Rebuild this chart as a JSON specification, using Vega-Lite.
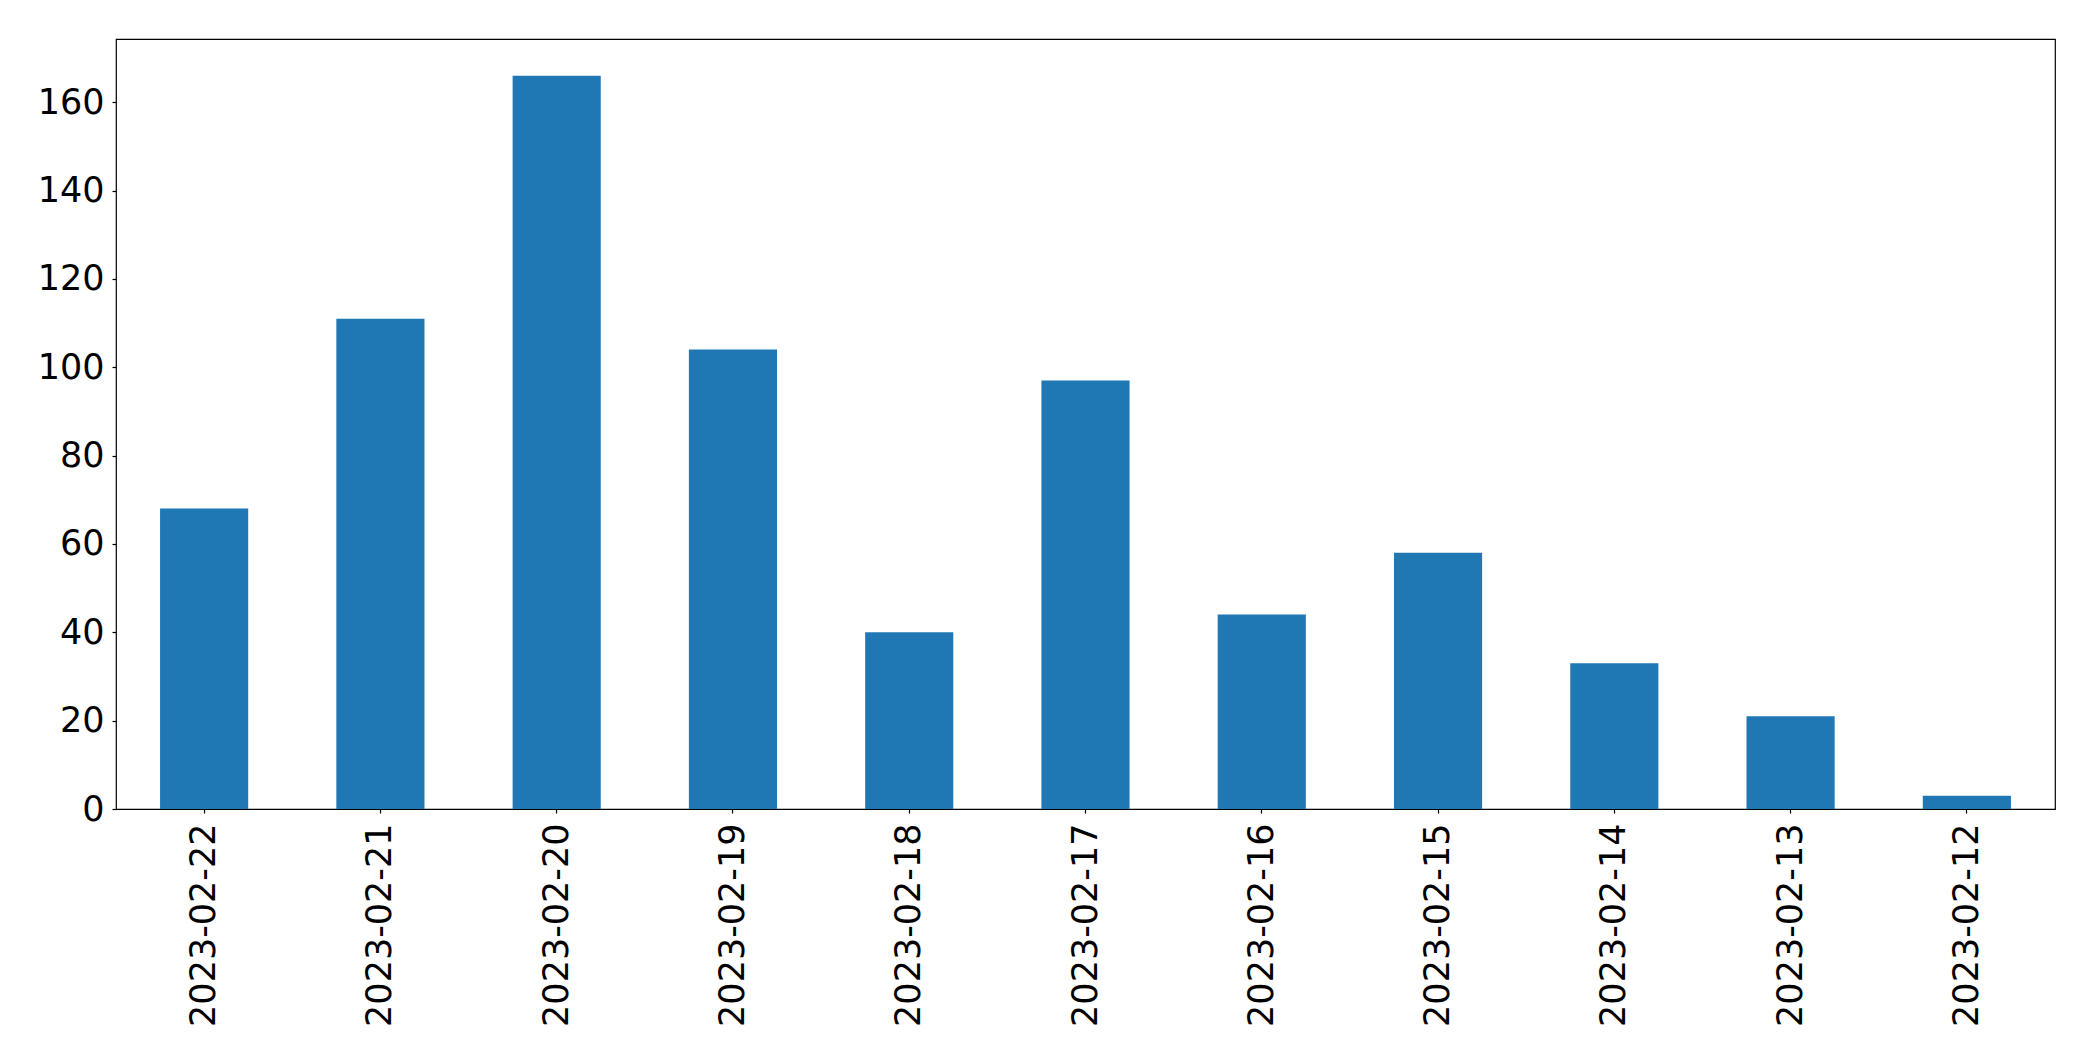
{
  "$schema": "https://vega.github.io/schema/vega-lite/v6.json",
  "width": 1939,
  "height": 770,
  "autosize": {"type": "none"},
  "padding": {"left": 116, "top": 39, "right": 38, "bottom": 252},
  "background": "white",
  "config": {
    "view": {"stroke": "black", "strokeWidth": 1.2},
    "axis": {
      "labelFont": "DejaVu Sans",
      "labelFontSize": 35,
      "labelColor": "black",
      "labelLimit": 0,
      "tickColor": "black",
      "tickSize": 4,
      "tickWidth": 1.2,
      "domain": false,
      "grid": false,
      "title": null
    }
  },
  "data": {
    "values": [
      {"date": "2023-02-22", "count": 68},
      {"date": "2023-02-21", "count": 111},
      {"date": "2023-02-20", "count": 166},
      {"date": "2023-02-19", "count": 104},
      {"date": "2023-02-18", "count": 40},
      {"date": "2023-02-17", "count": 97},
      {"date": "2023-02-16", "count": 44},
      {"date": "2023-02-15", "count": 58},
      {"date": "2023-02-14", "count": 33},
      {"date": "2023-02-13", "count": 21},
      {"date": "2023-02-12", "count": 3}
    ]
  },
  "mark": {"type": "bar", "color": "#1f77b4"},
  "encoding": {
    "x": {
      "field": "date",
      "type": "nominal",
      "sort": null,
      "scale": {"paddingInner": 0.5, "paddingOuter": 0.25},
      "axis": {"labelAngle": 270, "labelPadding": 10, "labelAlign": "right", "labelBaseline": "middle"}
    },
    "y": {
      "field": "count",
      "type": "quantitative",
      "scale": {"domain": [0, 174.3], "nice": false, "zero": true},
      "axis": {"values": [0, 20, 40, 60, 80, 100, 120, 140, 160], "labelPadding": 8}
    }
  }
}
